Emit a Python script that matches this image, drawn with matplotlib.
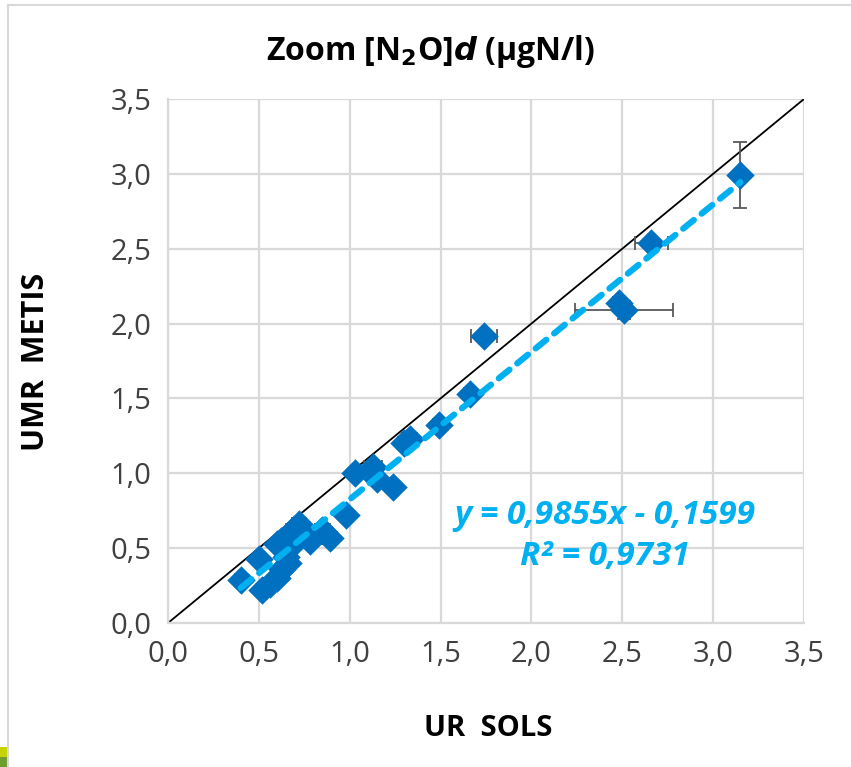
import numpy as np
import matplotlib
matplotlib.use("Agg")
import matplotlib.pyplot as plt
from matplotlib.ticker import FuncFormatter
from matplotlib.patches import Rectangle
from matplotlib.lines import Line2D

plt.rcParams["font.family"] = ["Open Sans", "DejaVu Sans"]

# Data (UR SOLS vs UMR METIS)
ur_sols = [0.40, 0.50, 0.52, 0.56, 0.60, 0.63, 0.66, 0.60, 0.62, 0.65, 0.68,
           0.69, 0.72, 0.74, 0.78, 0.85, 0.89, 0.98, 1.03, 1.13, 1.15, 1.24,
           1.30, 1.33, 1.49, 1.66, 1.74, 2.48, 2.51, 2.66, 3.15]
umr_metis = [0.29, 0.43, 0.22, 0.26, 0.30, 0.36, 0.40, 0.53, 0.55, 0.44, 0.52,
             0.62, 0.66, 0.60, 0.55, 0.62, 0.57, 0.72, 1.00, 1.04, 0.96, 0.91,
             1.20, 1.23, 1.32, 1.53, 1.92, 2.14, 2.09, 2.54, 2.99]
x_err = [0.03, 0.03, 0.03, 0.03, 0.03, 0.03, 0.04, 0.03, 0.03, 0.03, 0.04,
         0.04, 0.04, 0.03, 0.03, 0.04, 0.04, 0.03, 0.03, 0.05, 0.03, 0.03,
         0.03, 0.04, 0.03, 0.03, 0.07, 0.03, 0.27, 0.09, 0.02]
y_err = [0.02, 0.02, 0.02, 0.02, 0.02, 0.02, 0.02, 0.03, 0.03, 0.02, 0.03,
         0.03, 0.03, 0.02, 0.02, 0.03, 0.02, 0.02, 0.02, 0.03, 0.02, 0.02,
         0.04, 0.03, 0.02, 0.02, 0.03, 0.04, 0.06, 0.03, 0.22]

slope, intercept, r2 = 0.9855, -0.1599, 0.9731

W, H = 851, 767
fig = plt.figure(figsize=(W / 100, H / 100), dpi=100, facecolor="white")
ax = fig.add_axes([168 / W, 1 - 623 / H, 636 / W, 524 / H])

# chart area border and slide corner
fig.add_artist(Line2D([7.5 / W, 7.5 / W], [0, 1 - 4.5 / H], transform=fig.transFigure,
                      color="#d9d9d9", lw=1.5))
fig.add_artist(Line2D([7.5 / W, 1], [1 - 4.5 / H, 1 - 4.5 / H], transform=fig.transFigure,
                      color="#d9d9d9", lw=1.5))
fig.add_artist(Rectangle((0, 10 / H), 7 / W, 10 / H, transform=fig.transFigure,
                         color="#c8d400", lw=0))
fig.add_artist(Rectangle((0, 0), 7 / W, 10 / H, transform=fig.transFigure,
                         color="#6e9e2e", lw=0))

ax.errorbar(ur_sols, umr_metis, xerr=x_err, yerr=y_err, fmt="none",
            ecolor="#595959", elinewidth=1.3, capsize=5, capthick=1.3, zorder=3)
ax.scatter(ur_sols, umr_metis, marker="D", s=210, color="#0070C0",
           linewidths=0, zorder=4)

# 1:1 line
ax.plot([0, 3.5], [0, 3.5], color="black", lw=1.3, zorder=2)

# linear trend
xt = np.array([min(ur_sols), max(ur_sols)])
ax.plot(xt, slope * xt + intercept, color="#00B0F0", lw=4.5,
        linestyle=(0, (2.2, 1.6)), dash_capstyle="round", zorder=5)

fig.text(605 / W, 1 - 536 / H, "y = 0,9855x - 0,1599\nR² = 0,9731",
         ha="center", va="center", multialignment="center",
         fontsize=24, fontweight="bold", fontstyle="italic", color="#00B0F0",
         linespacing=1.35, zorder=6)

ax.set_xlim(0, 3.5)
ax.set_ylim(0, 3.5)
ticks = np.arange(0, 3.51, 0.5)
ax.set_xticks(ticks)
ax.set_yticks(ticks)
fmt = FuncFormatter(lambda v, p: f"{v:.1f}".replace(".", ","))
ax.xaxis.set_major_formatter(fmt)
ax.yaxis.set_major_formatter(fmt)
ax.tick_params(length=0, labelsize=21, colors="#404040", pad=12)
ax.grid(True, color="#d9d9d9", lw=1.6, zorder=0)
ax.set_axisbelow(True)
for s in ax.spines.values():
    s.set_visible(False)
for side in ("bottom", "left"):
    ax.spines[side].set_visible(True)
    ax.spines[side].set_color("#d9d9d9")
    ax.spines[side].set_linewidth(1.6)

fig.text(488 / W, 1 - 728 / H, "UR  SOLS", ha="center", va="center",
         fontsize=21, fontweight="bold")
fig.text(36 / W, 1 - 362 / H, "UMR  METIS", ha="center", va="center",
         rotation=90, fontsize=22, fontweight="bold")
fig.text(431 / W, 1 - 52 / H, r"Zoom [N$_\mathbf{2}$O]$\boldsymbol{d}$ (μgN/l)",
         ha="center", va="center", fontsize=23, fontweight="bold")

fig.savefig("out.png", dpi=100)
